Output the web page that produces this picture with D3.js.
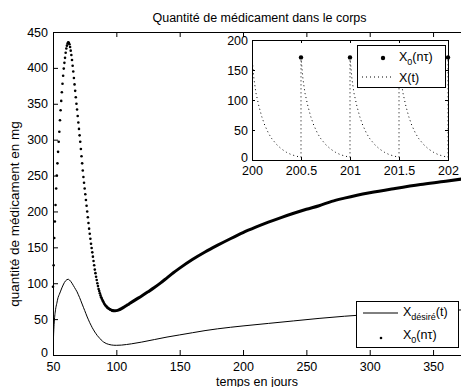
<!DOCTYPE html>
<html>
<head>
<meta charset="utf-8">
<script src="https://cdn.jsdelivr.net/npm/d3@7"></script>
<style>
  body { margin: 0; background: #fff; }
  svg text { font-family: "Liberation Sans", Arial, Helvetica, sans-serif; fill: #000; }
</style>
</head>
<body>
<script>
// ---- data ----

// main axes ticks
const xTicks = [50, 100, 150, 200, 250, 300, 350];
const yTicks = [0, 50, 100, 150, 200, 250, 300, 350, 400, 450];

// X0(n tau), one dose every 0.5 day: the part where the dots are still apart
const doseDays = [
  50, 50.5, 51, 51.5, 52, 52.5, 53, 53.5, 54, 54.5, 55, 55.5, 56, 56.5, 57, 57.5,
  58, 58.5, 59, 59.5, 60, 60.5, 61, 61.5, 62, 62.5, 63, 63.5, 64, 64.5, 65, 65.5,
  66, 66.5, 67, 67.5, 68, 68.5, 69, 69.5, 70, 70.5, 71, 71.5, 72, 72.5, 73, 73.5,
  74, 74.5, 75, 75.5, 76, 76.5, 77, 77.5, 78, 78.5, 79, 79.5, 80, 80.5, 81, 81.5,
  82, 82.5, 83, 83.5, 84, 84.5, 85, 85.5, 86, 86.5, 87, 87.5, 88, 88.5, 89, 89.5,
  90, 90.5, 91, 91.5, 92, 92.5, 93, 93.5, 94, 94.5, 95, 95.5, 96, 96.5, 97
];
const doseValues = [
  95, 125, 163, 186, 209, 232, 250, 267, 283, 297, 311, 327, 341, 354, 366, 378,
  389, 399, 407, 414, 421, 427, 431, 434, 435.5, 435, 433, 429, 424, 418, 411, 403,
  395, 386, 377, 368, 359, 350, 342, 333, 324, 315, 306, 297, 287, 277, 267, 257,
  248, 240, 232, 224, 216, 208, 200, 192, 184, 176, 169, 162, 155, 149, 143, 137,
  131, 125, 119, 114, 109, 104.5, 100, 96, 92, 89, 86, 83, 80.5, 78.5, 76.5, 75,
  73, 71.5, 70, 69, 68, 67, 66, 65.3, 64.7, 64, 63.5, 63, 62.6, 62.3, 62
];

// X0(n tau) after day 96, where the dots merge into a thick band
const bandDays   = [96, 97, 98, 99, 100, 102, 104, 107, 110, 115, 120, 125, 130, 135, 140, 145,
                    150, 160, 170, 180, 190, 200, 210, 220, 230, 240, 250, 260, 270, 280, 290,
                    300, 320, 340, 360, 376];
const bandValues = [62.6, 62, 61.7, 61.6, 61.8, 62.8, 64.6, 67.8, 71.2, 76.8, 82.2, 88, 94, 100.5, 107.5, 114.5,
                    121, 133, 143.5, 153, 162, 170.5, 178, 185, 191.5, 197.5, 203, 208, 214, 218.5, 222.5,
                    226, 232, 237.5, 242, 246];

// X_desire(t)
const wantDays   = [50, 50.5, 51, 52, 53, 54, 55, 56, 57, 58, 59, 60, 61, 62, 63, 64, 65, 66, 67, 68,
                    69, 70, 71, 72, 73, 74, 75, 76, 77, 78, 79, 80, 81, 82, 83, 84, 85, 86, 87, 88,
                    90, 92, 94, 96, 98, 100, 104, 108, 112, 120, 130, 140, 150, 160, 170, 180, 200,
                    220, 240, 260, 280, 300, 320, 340, 360, 376];
const wantValues = [0, 30, 46, 63, 72, 80, 84.5, 89, 93.5, 97.5, 101, 103.5, 105, 105.5, 104.5, 102.5, 100, 97, 94, 91,
                    88, 84, 80, 75.5, 71, 66.5, 62, 57.5, 53, 49, 45, 41.5, 38, 35, 32, 29.5, 27, 25, 23, 21,
                    18, 16, 14.8, 14, 13.6, 13.5, 13.8, 14.6, 15.6, 18, 21.5, 25, 28, 31, 34, 36.5, 40.5,
                    44, 47.5, 51, 54, 56.5, 58.5, 60.5, 62, 63];

// inset: days 200..202
const insetXTicks = [200, 200.5, 201, 201.5, 202];
const insetYTicks = [0, 50, 100, 150, 200];
const insetDoseDays = [200.5, 201, 201.5, 202];
const insetDoseValue = 171;
const cycleStarts = [200, 200.5, 201, 201.5];
// decay of X(t) during one dosing interval (time since dose, mg)
const cycleOffsets = [0, 0.02, 0.04, 0.07, 0.1, 0.13, 0.17, 0.2, 0.25, 0.3, 0.35, 0.4, 0.45, 0.5];
const cycleValues  = [171, 135, 112, 90, 72, 58, 44, 36, 26, 18.5, 13, 9, 6.5, 4.5];

// ---- layout ----
const width = 461;
const height = 387;
const plotLeft = 53, plotRight = 466, plotTop = 32, plotBottom = 355;
const fontSize = 12.5;

const svg = d3.select("body").append("svg")
  .attr("width", width)
  .attr("height", height)
  .style("display", "block");

const x = d3.scaleLinear().domain([50, 376]).range([plotLeft, plotRight]);
const y = d3.scaleLinear().domain([0, 450]).range([plotBottom, plotTop]);

svg.append("clipPath").attr("id", "mainClip")
  .append("rect").attr("x", plotLeft).attr("y", plotTop)
  .attr("width", plotRight - plotLeft).attr("height", plotBottom - plotTop);

// ticks (inward, MATLAB style) on all four sides
function styleAxis(g) {
  g.select(".domain").remove();
  g.attr("font-size", fontSize).attr("font-family", null);
  g.selectAll(".tick line").attr("stroke", "#000");
}

svg.append("g")
  .attr("transform", `translate(0,${plotBottom})`)
  .call(d3.axisBottom(x).tickValues(xTicks).tickSize(-5).tickPadding(7))
  .call(styleAxis);
svg.append("g")
  .attr("transform", `translate(0,${plotTop})`)
  .call(d3.axisTop(x).tickValues(xTicks).tickSize(-5).tickFormat(""))
  .call(styleAxis);
svg.append("g")
  .attr("transform", `translate(${plotLeft},0)`)
  .call(d3.axisLeft(y).tickValues(yTicks).tickSize(-5).tickPadding(5))
  .call(styleAxis)
  .call(g => g.selectAll(".tick text").filter(d => d === 0).attr("dy", "0.1em"));
svg.append("g")
  .attr("transform", `translate(${plotRight},0)`)
  .call(d3.axisRight(y).tickValues(yTicks).tickSize(-5).tickFormat(""))
  .call(styleAxis);

svg.append("rect")
  .attr("x", plotLeft + 0.5).attr("y", plotTop + 0.5)
  .attr("width", plotRight - plotLeft).attr("height", plotBottom - plotTop)
  .attr("fill", "none").attr("stroke", "#000");

// curves
const plot = svg.append("g").attr("clip-path", "url(#mainClip)");

plot.append("path")
  .datum(wantDays.map((d, i) => [d, wantValues[i]]))
  .attr("fill", "none")
  .attr("stroke", "#000")
  .attr("stroke-width", 1)
  .attr("d", d3.line().x(d => x(d[0])).y(d => y(d[1])).curve(d3.curveMonotoneX));

plot.append("path")
  .datum(bandDays.map((d, i) => [d, bandValues[i]]))
  .attr("fill", "none")
  .attr("stroke", "#000")
  .attr("stroke-width", 3)
  .attr("d", d3.line().x(d => x(d[0])).y(d => y(d[1])).curve(d3.curveMonotoneX));

svg.selectAll(".dose")
  .data(doseDays.map((d, i) => [d, doseValues[i]]))
  .enter()
  .append("circle")
  .attr("class", "dose")
  .attr("cx", d => x(d[0]))
  .attr("cy", d => y(d[1]))
  .attr("r", 1.3)
  .attr("fill", "#000");

// title and axis labels
svg.append("text")
  .attr("x", 259.5).attr("y", 22)
  .attr("text-anchor", "middle")
  .attr("font-size", fontSize)
  .text("Quantité de médicament dans le corps");

svg.append("text")
  .attr("x", 257).attr("y", 385.5)
  .attr("text-anchor", "middle")
  .attr("font-size", fontSize)
  .text("temps en jours");

svg.append("text")
  .attr("transform", "translate(19,214) rotate(-90)")
  .attr("text-anchor", "middle")
  .attr("font-size", 13.5)
  .text("quantité de médicament en mg");

// main legend
const legend = svg.append("g");
legend.append("rect")
  .attr("x", 356.5).attr("y", 301.5).attr("width", 102).attr("height", 46)
  .attr("fill", "#fff").attr("stroke", "#000");
legend.append("line")
  .attr("x1", 363).attr("x2", 398).attr("y1", 313).attr("y2", 313)
  .attr("stroke", "#000");
const l1 = legend.append("text").attr("x", 403).attr("y", 316).attr("font-size", fontSize);
l1.append("tspan").text("X");
l1.append("tspan").attr("dy", 4).attr("font-size", 9).text("désiré");
l1.append("tspan").attr("dy", -4).text("(t)");
legend.append("circle").attr("cx", 381).attr("cy", 338).attr("r", 1.3).attr("fill", "#000");
const l2 = legend.append("text").attr("x", 403).attr("y", 339).attr("font-size", fontSize);
l2.append("tspan").text("X");
l2.append("tspan").attr("dy", 4).attr("font-size", 9).text("0");
l2.append("tspan").attr("dy", -4).text("(nτ)");

// ---- inset ----
const iLeft = 252, iRight = 448, iTop = 40, iBottom = 160;
const ix = d3.scaleLinear().domain([200, 202]).range([iLeft, iRight]);
const iy = d3.scaleLinear().domain([0, 200]).range([iBottom, iTop]);
const inset = svg.append("g");

inset.append("rect")
  .attr("x", iLeft).attr("y", iTop)
  .attr("width", iRight - iLeft + 1).attr("height", iBottom - iTop + 1)
  .attr("fill", "#fff");

svg.append("clipPath").attr("id", "insetClip")
  .append("rect").attr("x", iLeft).attr("y", iTop)
  .attr("width", iRight - iLeft).attr("height", iBottom - iTop);

// X(t): each dose decays, then the next dose jumps it back up
const xt = [];
cycleStarts.forEach(s => {
  cycleOffsets.forEach((o, i) => xt.push([s + o, cycleValues[i]]));
});
xt.push([202, insetDoseValue]);

inset.append("path")
  .datum(xt)
  .attr("clip-path", "url(#insetClip)")
  .attr("fill", "none")
  .attr("stroke", "#000")
  .attr("stroke-width", 1)
  .attr("stroke-dasharray", "1,3")
  .attr("d", d3.line().x(d => ix(d[0])).y(d => iy(d[1])));

inset.append("g")
  .attr("transform", `translate(0,${iBottom})`)
  .call(d3.axisBottom(ix).tickValues(insetXTicks).tickSize(-3).tickPadding(6).tickFormat(d3.format("")))
  .call(styleAxis);
inset.append("g")
  .attr("transform", `translate(0,${iTop})`)
  .call(d3.axisTop(ix).tickValues(insetXTicks).tickSize(-3).tickFormat(""))
  .call(styleAxis);
inset.append("g")
  .attr("transform", `translate(${iLeft},0)`)
  .call(d3.axisLeft(iy).tickValues(insetYTicks).tickSize(-3).tickPadding(4))
  .call(styleAxis)
  .call(g => g.selectAll(".tick text").filter(d => d === 0).attr("dy", "0.1em"));
inset.append("g")
  .attr("transform", `translate(${iRight},0)`)
  .call(d3.axisRight(iy).tickValues(insetYTicks).tickSize(-3).tickFormat(""))
  .call(styleAxis);

inset.append("rect")
  .attr("x", iLeft + 0.5).attr("y", iTop + 0.5)
  .attr("width", iRight - iLeft).attr("height", iBottom - iTop)
  .attr("fill", "none").attr("stroke", "#000");

inset.selectAll(".idose")
  .data(insetDoseDays)
  .enter()
  .append("circle")
  .attr("class", "idose")
  .attr("cx", d => ix(d))
  .attr("cy", iy(insetDoseValue))
  .attr("r", 2.2)
  .attr("fill", "#000");

// inset legend
const ilg = inset.append("g");
ilg.append("rect")
  .attr("x", 357.5).attr("y", 45.5).attr("width", 88).attr("height", 42)
  .attr("fill", "#fff").attr("stroke", "#000");
ilg.append("circle").attr("cx", 383).attr("cy", 58).attr("r", 2.2).attr("fill", "#000");
const i1 = ilg.append("text").attr("x", 399).attr("y", 61).attr("font-size", fontSize);
i1.append("tspan").text("X");
i1.append("tspan").attr("dy", 4).attr("font-size", 9).text("0");
i1.append("tspan").attr("dy", -4).text("(nτ)");
ilg.append("line")
  .attr("x1", 362).attr("x2", 392).attr("y1", 77).attr("y2", 77)
  .attr("stroke", "#000").attr("stroke-dasharray", "1,3");
ilg.append("text").attr("x", 399).attr("y", 82).attr("font-size", fontSize).text("X(t)");
</script>
</body>
</html>
